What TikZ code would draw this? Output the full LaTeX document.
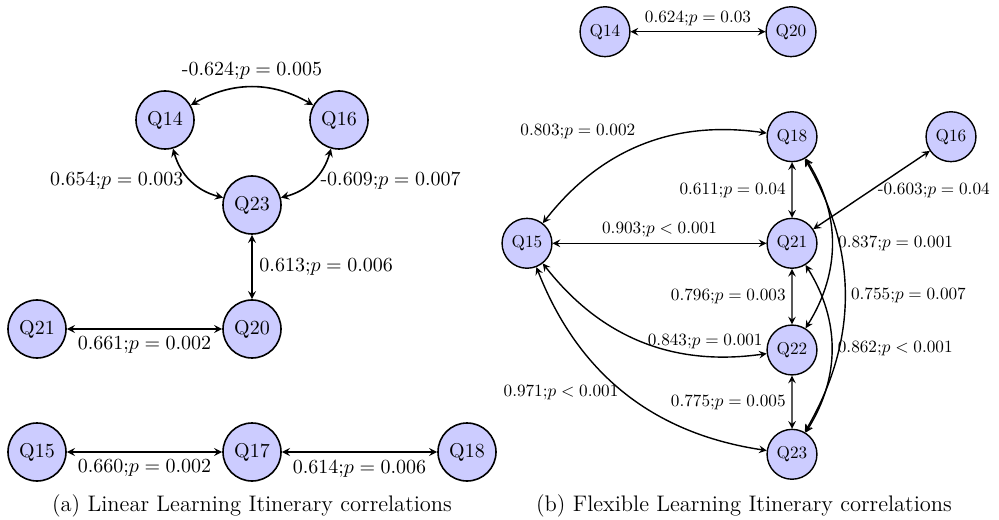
\documentclass[tikz,border=0pt]{standalone}
\usetikzlibrary{arrows}
\tikzset{
  qa/.style={circle, draw=black, fill=blue!20, thick, minimum size=29pt, inner sep=0pt},
  qb/.style={qa, line width=0.7pt, scale=0.86},
  lka/.style={<->, >=stealth, thick},
  lkb/.style={<->, >=stealth, line width=0.7pt},
  lbb/.style={scale=0.86},
  capstyle/.style={font=\fontsize{11.25}{13.5}\selectfont}
}
\begin{document}
\begin{tikzpicture}[x=0.5pt,y=0.5pt]
\path[use as bounding box] (0,0) rectangle (999,519);
% ---------- (a) ----------
\node[qa] (a14) at (165,399) {Q14};
\node[qa] (a16) at (339,399) {Q16};
\node[qa] (a23) at (252,314) {Q23};
\node[qa] (a21) at (37,190) {Q21};
\node[qa] (a20) at (252,190) {Q20};
\node[qa] (a15) at (37,67) {Q15};
\node[qa] (a17) at (252,67) {Q17};
\node[qa] (a18) at (467,67) {Q18};
\draw[lka] (a14) to[bend left=30] node[above] {-0.624;$p = 0.005$} (a16);
\draw[lka] (a14) to[bend right=30] node[left] {0.654;$p = 0.003$} (a23);
\draw[lka] (a16) to[bend left=30] node[right] {-0.609;$p = 0.007$} (a23);
\draw[lka] (a23) -- node[right] {0.613;$p = 0.006$} (a20);
\draw[lka] (a21) -- node[below] {0.661;$p = 0.002$} (a20);
\draw[lka] (a15) -- node[below] {0.660;$p = 0.002$} (a17);
\draw[lka] (a17) -- node[below] {0.614;$p = 0.006$} (a18);
\node[capstyle] (capa) at (252,13) {(a) Linear Learning Itinerary correlations};
% ---------- (b) ----------
\node[qb] (b14) at (605,487.3) {Q14};
\node[qb] (b20) at (791,487.3) {Q20};
\node[qb] (b18) at (792,382.3) {Q18};
\node[qb] (b16) at (951,382.3) {Q16};
\node[qb] (b15) at (527,275.7) {Q15};
\node[qb] (b21) at (792,275.7) {Q21};
\node[qb] (b22) at (792,169) {Q22};
\node[qb] (b23) at (792,64.7) {Q23};
\draw[lkb] (b14) -- node[above, lbb] {0.624;$p = 0.03$} (b20);
\draw[lkb] (b15) to[bend left=30] node[above left, lbb] {0.803;$p = 0.002$} (b18);
\draw[lkb] (b15) -- node[above, lbb] {0.903;$p < 0.001$} (b21);
\draw[lkb] (b18) -- node[left, lbb] {0.611;$p = 0.04$} (b21);
\draw[lkb] (b16) -- node[right, lbb] {-0.603;$p = 0.04$} (b21);
\draw[lkb] (b21) -- node[left, lbb] {0.796;$p = 0.003$} (b22);
\draw[lkb] (b22) -- node[left, lbb] {0.775;$p = 0.005$} (b23);
\draw[lkb] (b15) to[bend right=30] node[right, lbb] {0.843;$p = 0.001$} (b22);
\draw[lkb] (b15) to[bend right=30] node[left, lbb] {0.971;$p < 0.001$} (b23);
\draw[lkb] (b18) to[bend left=32] node[right, lbb] {0.837;$p = 0.001$} (b22);
\draw[lkb] (b18) to[bend left=30] node[right, lbb] {0.755;$p = 0.007$} (b23);
\draw[lkb] (b21) to[bend left=32] node[right, lbb] {0.862;$p < 0.001$} (b23);
\node[capstyle] (capb) at (744,13) {(b) Flexible Learning Itinerary correlations};
\end{tikzpicture}
\end{document}
